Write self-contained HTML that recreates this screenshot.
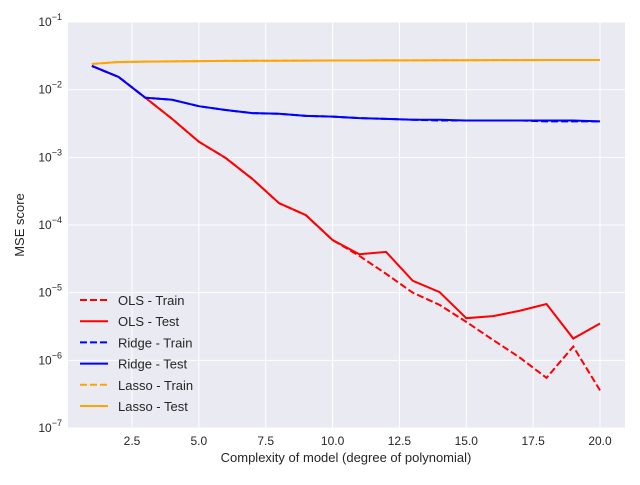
<!DOCTYPE html>
<html><head><meta charset="utf-8"><style>
body{margin:0;background:#fff;}
svg{font-family:"Liberation Sans","DejaVu Sans",sans-serif;}
</style></head><body>
<svg id="chart" width="640" height="480" viewBox="0 0 640 480">
<rect x="68" y="22" width="557" height="406" fill="#eaeaf2"/>
<g id="grid"></g><g id="series"></g><g id="axes"></g>
<text x="346" y="462" font-size="13" text-anchor="middle" fill="#262626">Complexity of model (degree of polynomial)</text>
<text transform="translate(24,225) rotate(-90)" font-size="13" text-anchor="middle" fill="#262626">MSE score</text>
<g id="legend"></g>
</svg>
<script>
const degrees=[1,2,3,4,5,6,7,8,9,10,11,12,13,14,15,16,17,18,19,20];
const olsTrain=[0.0224,0.0154,0.0076,0.0037,0.0017,9.8e-4,4.8e-4,2.1e-4,1.4e-4,6e-5,3.5e-5,1.9e-5,1e-5,6.6e-6,3.7e-6,2e-6,1.1e-6,5.5e-7,1.6e-6,3.6e-7];
const olsTest=[0.0224,0.0154,0.0076,0.0037,0.0017,9.8e-4,4.8e-4,2.1e-4,1.4e-4,6e-5,3.7e-5,4e-5,1.5e-5,1.02e-5,4.2e-6,4.5e-6,5.4e-6,6.8e-6,2.1e-6,3.5e-6];
const ridgeTrain=[0.0224,0.0154,0.0076,0.0071,0.0057,0.005,0.0045,0.0044,0.0041,0.004,0.0038,0.0037,0.0036,0.0035,0.0035,0.0035,0.0035,0.0034,0.0034,0.0034];
const ridgeTest=[0.0224,0.0154,0.0076,0.0071,0.0057,0.005,0.0045,0.0044,0.0041,0.004,0.0038,0.0037,0.0036,0.0036,0.0035,0.0035,0.0035,0.0035,0.0035,0.0034];
const lassoTrain=[0.024,0.0256,0.026,0.0262,0.0264,0.0266,0.0267,0.0268,0.0269,0.027,0.027,0.0271,0.0271,0.0272,0.0272,0.0273,0.0273,0.0274,0.0274,0.0275];
const lassoTest=[0.024,0.0256,0.026,0.0262,0.0264,0.0266,0.0267,0.0268,0.0269,0.027,0.027,0.0271,0.0271,0.0272,0.0272,0.0273,0.0273,0.0274,0.0274,0.0275];
const xTicks=[2.5,5.0,7.5,10.0,12.5,15.0,17.5,20.0];
const yExps=[-1,-2,-3,-4,-5,-6,-7];
const NS="http://www.w3.org/2000/svg";
function X(v){return 132+(v-2.5)*(468/17.5);}
function Y(v){return 22+(-1-Math.log10(v))*(406/6);}
function mk(t,a,p){const e=document.createElementNS(NS,t);for(const k in a)e.setAttribute(k,a[k]);p.appendChild(e);return e;}
const grid=document.getElementById('grid'),axes=document.getElementById('axes');
xTicks.forEach(t=>{
 const l=mk('line',{x1:X(t),x2:X(t),y1:22,y2:428,stroke:'#fff','stroke-width':1},grid);
 
 
 const tx=mk('text',{x:X(t),y:445,'font-size':12,'text-anchor':'middle',fill:'#262626'},axes);
 tx.textContent=t.toFixed(1);
 
 
});
yExps.forEach(e=>{
 const y=Y(Math.pow(10,e));
 const l=mk('line',{x1:68,x2:625,y1:y,y2:y,stroke:'#fff','stroke-width':1},grid);
 
 
 const tx=mk('text',{x:62,y:y+4,'font-size':12,'text-anchor':'end',fill:'#262626'},axes);
 tx.innerHTML='10<tspan font-size="9" dy="-6">\u2212'+(-e)+'</tspan>';
 
 
});
const series=[
 [olsTrain,'red',true,'OLS - Train','ols-train-line'],
 [olsTest,'red',false,'OLS - Test','ols-test-line'],
 [ridgeTrain,'blue',true,'Ridge - Train','ridge-train-line'],
 [ridgeTest,'blue',false,'Ridge - Test','ridge-test-line'],
 [lassoTrain,'orange',true,'Lasso - Train','lasso-train-line'],
 [lassoTest,'orange',false,'Lasso - Test','lasso-test-line']];
const sg=document.getElementById('series'),lg=document.getElementById('legend');
series.forEach((s,i)=>{
 const pts=degrees.map((d,j)=>X(d)+','+Y(s[0][j])).join(' ');
 const a={points:pts,fill:'none',stroke:s[1],'stroke-width':2};
 if(s[2])a['stroke-dasharray']='7,3';
 const pl=mk('polyline',a,sg);
 
 
 const ly=300+i*21.2;
 const la={x1:80,x2:108,y1:ly,y2:ly,stroke:s[1],'stroke-width':2};
 if(s[2])la['stroke-dasharray']='7,3';
 const ll=mk('line',la,lg);
 
 
 const lt=mk('text',{x:118,y:ly+5,'font-size':13,fill:'#262626'},lg);
 lt.textContent=s[3];
 
 
});
</script>
</body></html>
